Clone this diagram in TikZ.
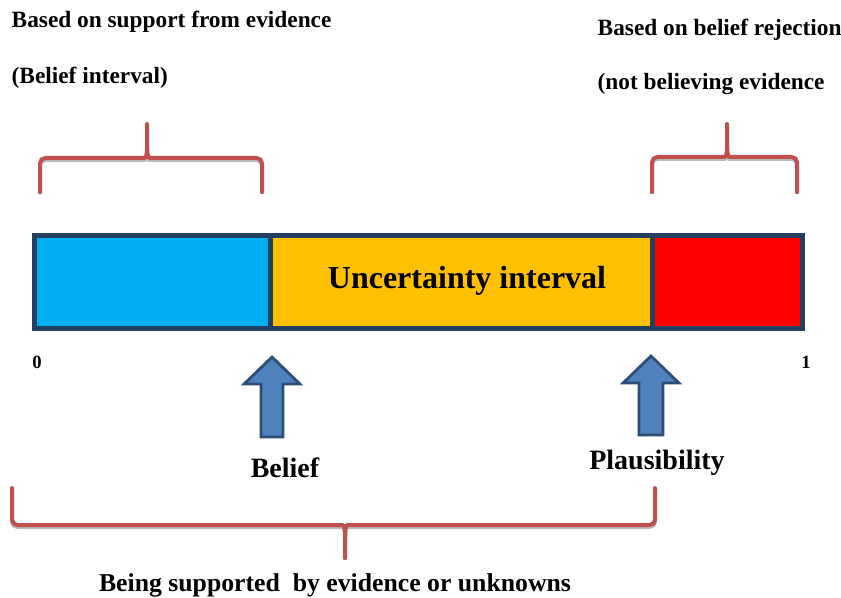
\documentclass[tikz,border=0pt]{standalone}
\usepackage{fontspec}
\setmainfont{Liberation Serif}

\definecolor{barblue}{HTML}{00B0F0}
\definecolor{barorange}{HTML}{FFC000}
\definecolor{barred}{HTML}{FF0000}
\definecolor{barframe}{HTML}{243F60}
\definecolor{curlred}{HTML}{C0504D}
\definecolor{arrowfill}{HTML}{4F81BD}
\definecolor{arrowline}{HTML}{2C4D75}

\begin{document}
\begin{tikzpicture}[x=0.75pt,y=-0.75pt]
	\tikzset{
	note/.style={anchor=west, font=\bfseries\fontsize{17.5}{20}\selectfont},
	mark label/.style={font=\bfseries\fontsize{14}{16}\selectfont},
	big/.style={font=\bfseries\fontsize{21}{24}\selectfont},
	curly/.style={curlred, line width=3pt, rounded corners=4pt, line cap=round},
	curlyshadow/.style={gray!55, line width=3pt, rounded corners=4pt, yshift=-1.5pt},
	frame/.style={barframe, line width=3.75pt},
	blockarrow/.style={fill=arrowfill, draw=arrowline, line width=2pt, line join=miter}}

	\def\by{235.5};
	\def\bb{328.5};

	\useasboundingbox (0,0) rectangle (841,598);

	%texts on top
	\node[note] (support) at (7,22) {Based on support from evidence};
	\node[note] (supportsub) at (7,78) {(Belief interval)};
	\node[note] (reject) at (593,30) {Based on belief rejection};
	\node[note] (rejectsub) at (593,84) {(not believing evidence};

	%top braces
	\foreach \st in {curlyshadow, curly} {
		\draw[\st] (40,192) -- (40,158) -- (139,158) .. controls (146,158) and (147,154) .. (147,146) -- (147,124);
		\draw[\st] (147,146) .. controls (147,154) and (148,158) .. (155,158) -- (262,158) -- (262,192);
		\draw[\st] (652,192) -- (652,157) -- (719,157) .. controls (726,157) and (727,153) .. (727,145) -- (727,124);
		\draw[\st] (727,145) .. controls (727,153) and (728,157) .. (735,157) -- (797,157) -- (797,192);
	}

	%the bar
	\fill[barblue] (34.5,\by) rectangle (270,\bb);
	\fill[barorange] (270,\by) rectangle (652,\bb);
	\fill[barred] (652,\by) rectangle (802.5,\bb);
	\draw[frame] (34.5,\by) rectangle (802.5,\bb);
	\draw[frame] (270,\by) -- (270,\bb);
	\draw[frame] (652,\by) -- (652,\bb);
	\node[font=\bfseries\fontsize{24}{28}\selectfont] (uncertainty) at (467,281) {Uncertainty interval};

	\node[mark label] (zero) at (37,362) {0};
	\node[mark label] (one) at (806,362) {1};

	%arrows
	\draw[blockarrow] (272,357) -- (300,384) -- (283,384) -- (283,437) -- (261,437) -- (261,384) -- (244,384) -- cycle;
	\draw[blockarrow] (651,356) -- (679,383) -- (663,383) -- (663,435) -- (639,435) -- (639,383) -- (623,383) -- cycle;
	\node[big] (belief) at (285,468) {Belief};
	\node[big] (plaus) at (657,463) {Plausibility};

	%bottom brace
	\foreach \st in {curlyshadow, curly} {
		\draw[\st] (12,488) -- (12,525) -- (337,525) .. controls (344,525) and (345,529) .. (345,537) -- (345,558);
		\draw[\st] (345,537) .. controls (345,529) and (346,525) .. (353,525) -- (655,525) -- (655,488);
	}
	\node[font=\bfseries\fontsize{19.3}{22}\selectfont] (supported) at (335,585) {Being supported\ \ by evidence or unknowns};

\end{tikzpicture}
\end{document}
